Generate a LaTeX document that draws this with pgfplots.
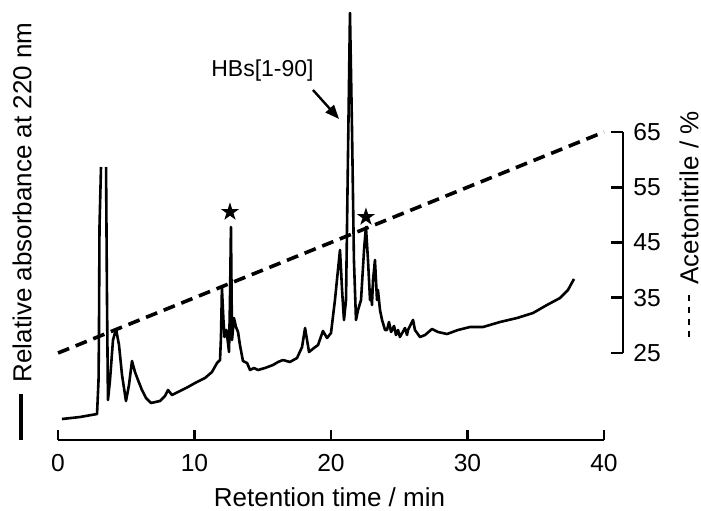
\documentclass[border=0pt]{standalone}
\usepackage{fontspec}
\setmainfont{Liberation Sans}
\usepackage{pgfplots}
\pgfplotsset{compat=1.18}
\usetikzlibrary{arrows.meta}

% filled five-point star
\pgfdeclareplotmark{fstar}{%
  \pgfpathmoveto{\pgfpointpolar{90}{\pgfplotmarksize}}%
  \pgfpathlineto{\pgfpointpolar{126}{0.382\pgfplotmarksize}}%
  \pgfpathlineto{\pgfpointpolar{162}{\pgfplotmarksize}}%
  \pgfpathlineto{\pgfpointpolar{198}{0.382\pgfplotmarksize}}%
  \pgfpathlineto{\pgfpointpolar{234}{\pgfplotmarksize}}%
  \pgfpathlineto{\pgfpointpolar{270}{0.382\pgfplotmarksize}}%
  \pgfpathlineto{\pgfpointpolar{306}{\pgfplotmarksize}}%
  \pgfpathlineto{\pgfpointpolar{342}{0.382\pgfplotmarksize}}%
  \pgfpathlineto{\pgfpointpolar{18}{\pgfplotmarksize}}%
  \pgfpathlineto{\pgfpointpolar{54}{0.382\pgfplotmarksize}}%
  \pgfpathclose
  \pgfusepathqfill
}

\begin{document}
\begin{tikzpicture}
\path[use as bounding box] (-29pt,-35pt) rectangle (321.5pt,220pt);

% chromatogram (y in arbitrary units)
\begin{axis}[
  at={(0,0)}, anchor=south west,
  scale only axis, width=273pt, height=220pt,
  xmin=0, xmax=40, ymin=0, ymax=440,
  axis x line*=bottom, axis y line=none,
  axis line style={line width=1.3pt},
  xtick={0,10,20,30,40}, ytick=\empty,
  tick align=inside, major tick length=5pt,
  tick style={line width=1.3pt, black},
  /pgf/number format/assume math mode=true,
  xticklabel style={font=\fontsize{12.3}{14}\selectfont, anchor=base, inner sep=0pt, yshift=-15.5pt},
  clip=false, unbounded coords=jump,
]
\addplot[black, line width=1.3pt, line join=round] coordinates {
  (0.29,21) (1.61,23) (2.86,26) (2.97,60) (3.00,103) (3.04,213) (3.15,273)
  (3.3,nan)
  (3.52,273) (3.59,140) (3.66,40) (3.81,60) (4.03,100) (4.25,111) (4.47,95)
  (4.69,65) (4.98,39) (5.20,55) (5.42,79) (5.64,68) (5.86,60) (6.15,50)
  (6.45,42) (6.81,37) (7.47,39) (7.84,44) (8.06,50) (8.35,45) (8.94,49)
  (9.52,53) (10.04,57) (10.77,62) (11.28,68) (11.65,77) (11.87,80)
  (11.94,103) (12.01,152) (12.12,120) (12.20,103) (12.34,110) (12.53,88)
  (12.60,140) (12.67,213) (12.75,100) (12.89,122) (13.04,113) (13.19,108)
  (13.33,95) (13.55,79) (13.85,77) (14.07,70) (14.36,72) (14.65,70)
  (15.16,72) (15.75,75) (16.12,78) (16.48,80) (16.99,78) (17.51,82)
  (17.88,93) (18.10,112) (18.39,88) (18.75,92) (19.05,95) (19.41,109)
  (19.71,102) (20.00,107) (20.29,140) (20.51,170) (20.66,190) (20.81,150)
  (20.95,120) (21.10,140) (21.25,290) (21.39,427) (21.54,310) (21.68,180)
  (21.83,120) (21.98,130) (22.20,140) (22.42,190) (22.56,213) (22.71,180)
  (22.86,140) (22.93,150) (23.00,135) (23.08,160) (23.22,180) (23.37,140)
  (23.44,150) (23.59,130) (23.74,120) (23.96,110) (24.10,110) (24.25,118)
  (24.40,108) (24.62,114) (24.76,105) (24.91,110) (25.05,103) (25.42,112)
  (25.57,105) (25.64,110) (26.01,120) (26.15,110) (26.52,103) (26.89,105)
  (27.40,111) (27.84,108) (28.50,106) (29.30,110) (30.18,113) (31.14,113)
  (32.38,118) (33.63,122) (34.80,127) (35.82,135) (36.78,142) (37.36,150)
  (37.80,161)
};
\addplot[only marks, mark=fstar, mark size=4.8pt, black] coordinates {(12.6,228) (22.56,223)};

\node[font=\fontsize{11.5}{14}\selectfont] at (axis cs:14.98,369) {HBs[1-90]};
\draw[-{Triangle[length=7pt,width=5.5pt]}, line width=1.2pt] (axis cs:18.68,350) -- (axis cs:20.59,321);

\node[anchor=base, font=\fontsize{13}{15}\selectfont] at (axis cs:19.89,-66) {Retention time / min};
\node[rotate=90, font=\fontsize{13}{15}\selectfont] at (axis cs:-2.64,208.5)
  {\rule[0.33em]{23pt}{1.6pt}\hspace{6pt}Relative absorbance at 220 nm};
\node[rotate=90, font=\fontsize{13}{15}\selectfont] at (axis cs:46.23,216)
  {\rule[0.33em]{3pt}{1pt}\hspace{3pt}\rule[0.33em]{3pt}{1pt}\hspace{3pt}\rule[0.33em]{3pt}{1pt}\hspace{3pt}\rule[0.33em]{3pt}{1pt}\hspace{5pt}Acetonitrile / \%};
\end{axis}

% acetonitrile gradient
\begin{axis}[
  at={(0,43.5pt)}, anchor=south west,
  scale only axis, width=282.5pt, height=110.5pt,
  xmin=0, xmax=41.392, ymin=25, ymax=65,
  axis x line=none, axis y line*=right,
  axis line style={line width=1.3pt},
  ytick={25,35,45,55,65},
  tick align=inside, major tick length=6pt,
  tick style={line width=1.3pt, black},
  /pgf/number format/assume math mode=true,
  yticklabel style={font=\fontsize{12.3}{14}\selectfont, anchor=west, inner sep=0pt, xshift=5pt},
  clip=false,
]
\addplot[black, line width=1.8pt, dash pattern=on 6pt off 3.5pt] coordinates {(0,25) (40,65)};
\end{axis}
\end{tikzpicture}
\end{document}
